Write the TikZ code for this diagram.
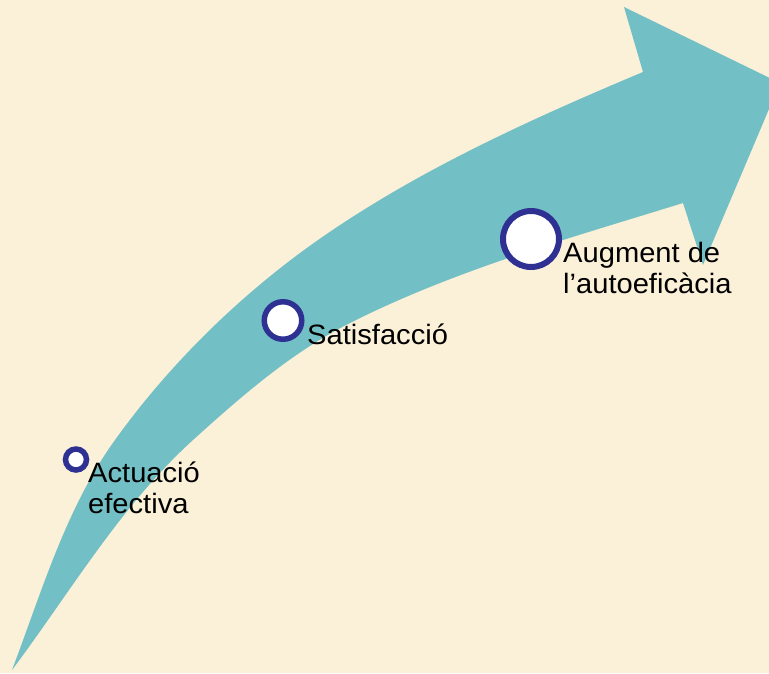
\documentclass[tikz,border=0pt]{standalone}
\usepackage{fontspec}
\setmainfont{Liberation Sans}[FakeStretch=1.04]
\definecolor{bgcream}{HTML}{FBF0D8}
\definecolor{arrowteal}{HTML}{72BFC5}
\definecolor{ringblue}{HTML}{2E3192}
\begin{document}
\begin{tikzpicture}[x=1pt,y=-1pt,
  ring/.style={draw=ringblue, fill=white, circle, inner sep=0pt},
  lab/.style={font=\fontsize{28}{31}\selectfont, align=left, anchor=base west, inner sep=0pt, text=black}]
\useasboundingbox (0,0) rectangle (769,673);
\fill[bgcream] (0,0) rectangle (769,673);
\clip (0,0) rectangle (769,673);
% curved arrow
\fill[arrowteal]
  (12,670) .. controls (42,591) and (66,508) .. (115,440)
  .. controls (166,369) and (230,305) .. (300,253)
  .. controls (403,177) and (524,122) .. (643,72)
  -- (624,7) -- (780,83) -- (703,265) -- (683,203)
  .. controls (570,238) and (455,270) .. (350,323)
  .. controls (292,352) and (241,396.5) .. (193,440)
  .. controls (120.5,505.7) and (69,594) .. (12,670)
  -- cycle;
% circles
\node[ring, minimum size=21pt, line width=5.5pt] (c1) at (76,459.5) {};
\node[ring, minimum size=37.5pt, line width=5.5pt] (c2) at (283,320.5) {};
\node[ring, minimum size=56pt, line width=6pt] (c3) at (531,239) {};
% labels (base anchor = baseline of the last line)
\node[lab] (t1) at (88,513) {Actuació\\efectiva};
\node[lab] (t2) at (307,344) {Satisfacció};
\node[lab] (t3) at (563,293) {Augment de\\l’autoeficàcia};
\end{tikzpicture}
\end{document}
